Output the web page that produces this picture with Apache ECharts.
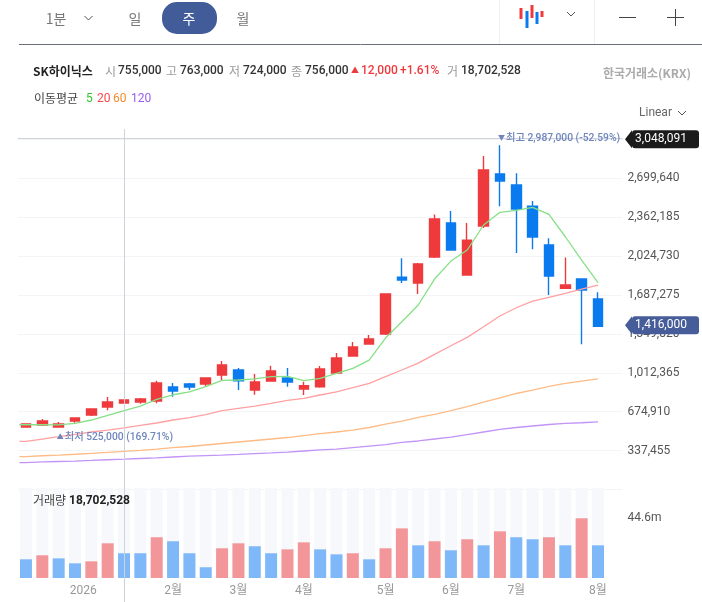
<!DOCTYPE html>
<html><head><meta charset="utf-8">
<style>html,body{margin:0;padding:0;background:#fff}#c{width:702px;height:602px}</style>
<script src="https://cdn.jsdelivr.net/npm/echarts@6/dist/echarts.min.js"></script>
</head><body><div id="c"></div>
<script>
// thousands of won
const opens  = [542,560,542,594,646,716,750,759,768,889,915,915,993,1037,863,941,967,872,892,1011,1158,1262,1349,1843,1791,2017,2312,1861,2286,2737,2642,2459,2121,1745,1826,1653];
const closes = [568,594,568,620,698,759,776,785,924,855,889,967,1080,944,933,1028,933,900,1045,1141,1236,1306,1696,1817,1956,2347,2078,2164,2772,2676,2433,2190,1852,1774,1731,1416];
const lows   = [538,551,536,579,638,687,750,744,748,805,863,898,950,863,822,935,892,820,883,1005,1152,1262,1340,1791,1696,2008,2078,1861,2269,2457,2052,2084,1687,1745,1260,1410];
const highs  = [574,612,586,620,698,802,776,794,944,924,924,970,1115,1054,1002,1074,1054,935,1071,1184,1280,1340,1702,2006,1965,2387,2416,2312,2893,2987,2743,2503,2179,2014,1826,1711];
const ma5   = [562,562,560,574,603,644,684,724,782,822,848,892,947,950,959,979,982,944,965,1008,1051,1123,1314,1456,1601,1826,1982,2078,2295,2405,2422,2448,2387,2193,1991,1794];
const ma20  = [418,438,458,479,499,516,534,557,577,603,623,649,684,704,724,748,774,791,820,848,883,921,979,1037,1097,1173,1247,1320,1412,1505,1577,1635,1667,1702,1739,1774];
const ma60  = [286,293,299,306,314,322,331,340,351,363,373,386,399,412,425,438,451,468,484,499,516,538,568,594,625,651,685,720,759,794,833,863,894,920,941,959];
const ma120 = [234,239,243,247,252,258,263,269,275,282,289,294,299,305,312,318,325,334,343,351,364,377,390,408,421,438,455,477,499,521,538,551,564,573,579,586];
// millions of shares on the volume axis
const volumes = [13.9,16.9,14.6,10.9,12.4,25.8,18.4,18.4,30.3,27.3,18.4,8,22.1,25.8,23.6,18.4,21.3,26.5,21.3,17.6,18.4,13.9,22.1,36.9,24.3,27.3,20.6,28.8,24.3,34.7,30.3,28.8,30.3,24.3,44.4,24.3];
const volumeUp = [0,1,0,0,1,1,0,0,1,0,0,0,1,1,0,0,1,1,0,0,1,0,1,1,0,1,0,1,0,1,0,0,1,0,1,0];
const xLabels = ['','','','','2026','','','','','2월','','','','3월','','','','4월','','','','','5월','','','','6월','','','','7월','','','','','8월',''];
const priceTicks = [337455,674910,1012365,1349820,1687275,2024730,2362185,2699640];
const volumeTicks = [44.6];
const axisTop = 3048091, lastClose = 1416000, highVal = 2987000, lowVal = 525000, crossIndex = 6;

const F = "Roboto, 'Noto Sans CJK KR', sans-serif";
const KR = "'Noto Sans CJK KR', Roboto, sans-serif";
const RED = '#ef3a3d', BLUE = '#0a7bef';
const chart = echarts.init(document.getElementById('c'), null, {renderer:'canvas'});
const fmt = v => v.toLocaleString('en-US');
const line = (name, arr, color) => ({
  name, type:'line', xAxisIndex:2, yAxisIndex:0, symbol:'none', silent:true, z:4,
  lineStyle:{color, width:1.3},
  data:[[-0.4, arr[0]*1000]].concat(arr.map((v,i)=>[i, v*1000]))
});
chart.setOption({
  animation:false, backgroundColor:'#fff',
  grid:[{left:17.8,top:138.2,width:604.7,height:351.3},{left:17.8,top:488,width:604.7,height:90}],
  xAxis:[
    {type:'category',gridIndex:0,data:xLabels,axisLine:{show:false},axisTick:{show:false},axisLabel:{show:false},splitLine:{show:false}},
    {type:'category',gridIndex:1,data:xLabels,axisLine:{show:false},axisTick:{show:false},splitLine:{show:false},
     axisLabel:{interval:0,margin:7,color:'#999',fontSize:12,fontFamily:F,
       formatter:v=>v==='2026'?'{y|2026}':v,
       rich:{y:{padding:[0,16,0,0],color:'#999',fontSize:12,fontFamily:F}}}},
    {type:'value',gridIndex:0,min:-0.5,max:36.5,show:false,splitLine:{show:false}}
  ],
  yAxis:[
    {type:'value',gridIndex:0,position:'right',min:0,max:axisTop,interval:337455,
     axisLine:{show:false},axisTick:{show:false},
     splitLine:{show:true,lineStyle:{color:'#f3f4f6',width:1}},
     axisLabel:{margin:5,color:'#555',fontSize:12,fontFamily:F,padding:[2,0,0,0],
       formatter:v=>priceTicks.includes(v)?fmt(v):''}},
    {type:'value',gridIndex:1,position:'right',min:0,max:66.9,
     axisLine:{show:false},axisTick:{show:false},splitLine:{show:false},
     axisLabel:{customValues:volumeTicks,margin:5,color:'#555',fontSize:12,fontFamily:F,padding:[2,0,0,0],formatter:v=>v+'m'}}
  ],
  series:[
    {type:'candlestick',xAxisIndex:0,yAxisIndex:0,barWidth:10,silent:true,z:3,
     itemStyle:{color:RED,color0:BLUE,borderColor:RED,borderColor0:BLUE,borderColorDoji:RED,borderWidth:1.4},
     data:opens.map((o,i)=>[o*1000,closes[i]*1000,lows[i]*1000,highs[i]*1000]),
     markLine:{silent:true,symbol:'none',label:{show:false},animation:false,
       lineStyle:{color:'#cfd3dc',width:1.2,type:'solid'},data:[{yAxis:axisTop}]}},
    line('MA5',ma5,'#86e086'),
    line('MA20',ma20,'#ffa0a2'),
    line('MA60',ma60,'#ffbb85'),
    line('MA120',ma120,'#c294f7'),
    {type:'bar',xAxisIndex:1,yAxisIndex:1,barWidth:12,silent:true,
     showBackground:true,backgroundStyle:{color:'#f7f8fc'},
     data:volumes.map((v,i)=>({value:v,itemStyle:{color:volumeUp[i]?'#f3969a':'#7fb8f9'}}))}
  ]
});

const px = (i,v)=>chart.convertToPixel({xAxisIndex:0,yAxisIndex:0},[i,v]);
const T = (text,x,y,fill,o={})=>({type:'text',z:20,style:{text,x,y,fill,
  font:(o.weight||'400')+' '+(o.size||12)+'px '+(o.family||F),
  textAlign:o.align||'left',align:o.align||'left',textVerticalAlign:'middle',verticalAlign:'middle'}});
const L = (x1,y1,x2,y2,stroke,w=1)=>({type:'line',z:19,silent:true,shape:{x1,y1,x2,y2},style:{stroke,lineWidth:w}});
const R = (x,y,width,height,fill,r=0)=>({type:'rect',z:19,silent:true,shape:{x,y,width,height,r},style:{fill}});
const chev = (x,y)=>({type:'polyline',z:20,silent:true,shape:{points:[[x-4,y-2],[x,y+2],[x+4,y-2]]},style:{stroke:'#555',lineWidth:1,fill:null}});
const tag = (y,fill,text)=>[
  {type:'polygon',z:21,silent:true,shape:{points:[[625,y],[632,y-9],[632,y+9]]},style:{fill}},
  R(632,y-9,67,18,fill,3),
  Object.assign(T(text,661,y,'#fff',{align:'center'}),{z:22})
];
const G = [];
// top tabs
G.push(T('1분',56,18.5,'#777',{size:14,family:KR,align:'center'}), chev(88.5,18));
G.push(T('일',135,18.5,'#777',{size:14,family:KR,align:'center'}));
G.push(R(162,2,55,32,'#425c99',15), Object.assign(T('주',189,18.5,'#fff',{size:14,family:KR,align:'center'}),{z:22}));
G.push(T('월',243,18.5,'#777',{size:14,family:KR,align:'center'}));
G.push(L(19,44.5,702,44.5,'#6b6f76'), L(499.5,0,499.5,44,'#eeeff1'), L(594.5,0,594.5,44,'#eeeff1'));
// chart type icon
[[521,8,19,RED],[527,11,28,BLUE],[532,5,18,RED],[537,12,24,BLUE],[542,11,17,RED]].forEach(a=>G.push(R(a[0]-1.5,a[1],3,a[2]-a[1],a[3])));
G.push(chev(571,14));
G.push(L(619,17.5,636,17.5,'#444'), L(667,17.5,684,17.5,'#444'), L(675.5,9,675.5,26,'#444'));
// info row
G.push(T('SK하이닉스',33,71,'#222',{weight:'700',family:KR}));
[['시',105,'755,000',118],['고',166,'763,000',180],['저',229,'724,000',243],['종',291,'756,000',305]].forEach(a=>{
  G.push(T(a[0],a[1],71,'#999',{family:KR}), T(a[2],a[3],71,'#333',{weight:'500'}));
});
G.push(T('▲',351,70.5,RED,{size:8}), T('12,000',361,71,RED,{weight:'500'}), T('+1.61%',400,71,RED,{weight:'500'}));
G.push(T('거',447,71,'#999',{family:KR}), T('18,702,528',461,71,'#333',{weight:'500'}));
G.push(T('한국거래소(KRX)',691,73,'#aaa',{align:'right',family:KR,weight:'700'}));
// MA legend
G.push(T('이동평균',34,98.5,'#444',{family:KR}), T('5',86,98.5,'#2fc92f'), T('20',97,98.5,'#f4484a'), T('60',113,98.5,'#f58a2a'), T('120',131,98.5,'#9a5cf0'));
G.push(T('Linear',639,113,'#666'), chev(682,113));
// crosshair
const cx = Math.round(px(crossIndex,0)[0])+0.5;
G.push(Object.assign(L(cx,129,cx,602,'#cdd2db'),{z:10}));
// high and low
const SL = '#6f86bd';
const hiX = px(29,highVal)[0], yTop = px(0,axisTop)[1];
G.push(T('▼',hiX-2,yTop,SL,{size:7}), T('최고 2,987,000 (-52.59%)',hiX+6,yTop+0.3,SL,{size:10.3,weight:'500'}));
const loP = px(2,lowVal);
G.push(T('▲',loP[0]-2,loP[1]+8.5,SL,{size:7}), T('최저 525,000 (169.71%)',loP[0]+6,loP[1]+8.5,SL,{size:10.3,weight:'500'}));
// value tags
tag(px(0,axisTop)[1]+1,'#1b1b1b',fmt(axisTop)).forEach(e=>G.push(e));
tag(px(0,lastClose)[1]-1,'#465d99',fmt(lastClose)).forEach(e=>G.push(e));
// volume caption
G.push(T('거래량',33,500.5,'#444',{family:KR}), T('18,702,528',69,500.5,'#222',{weight:'700'}));
chart.setOption({graphic:G});
</script></body></html>
